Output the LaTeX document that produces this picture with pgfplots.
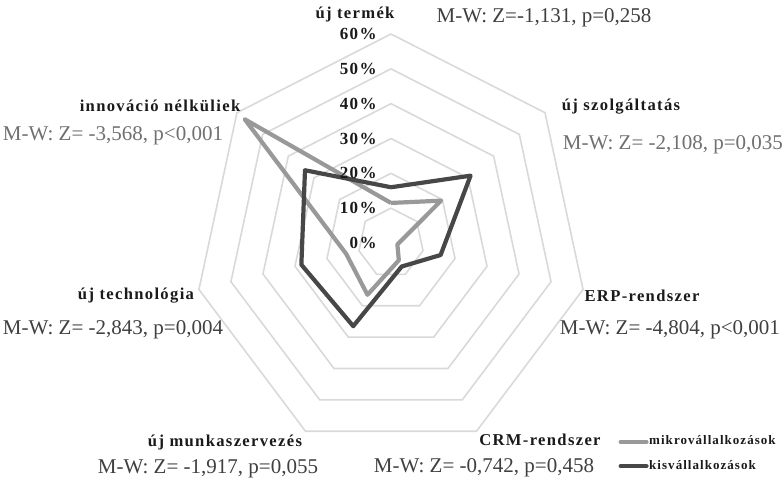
\documentclass[border=0pt]{standalone}
\usepackage{fontspec}
\setmainfont{Liberation Serif}
\newfontfamily\lblfont[LetterSpace=8]{Liberation Serif}
\usepackage{pgfplots}
\usepgfplotslibrary{polar}
\pgfplotsset{compat=1.18}

\definecolor{gridc}{HTML}{D9D9D9}
\definecolor{mikro}{HTML}{999999}
\definecolor{kis}{HTML}{474747}
\definecolor{txt}{HTML}{1A1A1A}
\definecolor{mwdark}{HTML}{404040}
\definecolor{mwgray}{HTML}{707070}

% angle (deg) of each category, values in %
\pgfplotstableread{
angle   mikro  kis
90      11.5   16
38.571  19.5   31
347.143 2      15.5
295.714 5.5    7.5
244.286 16.5   26.5
192.857 14     28
141.429 57     33.5
90      11.5   16
}\radar

\begin{document}
\begin{tikzpicture}
\begin{scope}[x=0.5pt,y=-0.5pt]
\useasboundingbox (0,0) rectangle (783,488);
\end{scope}

\begin{axis}[
    at={(195.5pt,-121.5pt)}, anchor=center,
    width=197pt, height=209pt, scale only axis,
    xmin=-60, xmax=60, ymin=-60, ymax=60,
    hide axis,
    clip=false,
    legend style={at={(axis description cs:1.478,0.04)}, anchor=north east,
        draw=none, fill=none, font=\lblfont\bfseries\fontsize{6.5}{7}\selectfont,
        text=txt, row sep=5.5pt, inner sep=0pt, outer sep=0pt,
        nodes={inner sep=0.3pt, outer sep=0pt},
        /tikz/every even column/.style={column sep=0pt}},
    legend cell align=left,
    legend image code/.code={\draw[#1,line width=2pt,line cap=round] (0pt,0pt) -- (13pt,0pt);},
]
\pgfplotsinvokeforeach{10,20,30,40,50,60}{
  \addplot[gridc, line width=0.8pt, data cs=polar, forget plot] coordinates
    {(90,#1) (38.571,#1) (347.143,#1) (295.714,#1) (244.286,#1) (192.857,#1) (141.429,#1) (90,#1)};
}
\addplot[mikro, line width=2.1pt, line join=round, data cs=polar] table[x=angle,y=mikro] {\radar};
\addlegendentry{mikrovállalkozások}
\addplot[kis, line width=2.1pt, line join=round, data cs=polar] table[x=angle,y=kis] {\radar};
\addlegendentry{kisvállalkozások}

\pgfplotsinvokeforeach{0,10,20,30,40,50,60}{
  \node[anchor=east, text=txt, font=\lblfont\bfseries\fontsize{8.5}{9}\selectfont, inner sep=0pt, xshift=-7pt]
    at (axis cs:0,#1) {#1\%};
}
\end{axis}

\begin{scope}[x=0.5pt,y=-0.5pt, every node/.style={inner sep=0pt}]
\tikzset{cat/.style={text=txt, font=\lblfont\bfseries\fontsize{8.3}{9}\selectfont},
         mw/.style={text=mwdark, font=\fontsize{10.5}{12}\selectfont},
         mwg/.style={text=mwgray, font=\fontsize{10.5}{12}\selectfont}}
\node[cat] at (355,14) {új termék};
\node[mw]  at (544,18) {M-W: Z=-1,131, p=0,258};
\node[cat] at (621,107) {új szolgáltatás};
\node[mwg] at (673,145) {M-W: Z= -2,108, p=0,035};
\node[cat] at (642,296) {ERP-rendszer};
\node[mw]  at (670,330) {M-W: Z= -4,804, p<0,001};
\node[cat] at (540,440) {CRM-rendszer};
\node[mw]  at (484,468) {M-W: Z= -0,742, p=0,458};
\node[cat] at (225,443) {új munkaszervezés};
\node[mw]  at (208,469) {M-W: Z= -1,917, p=0,055};
\node[cat] at (136,296) {új technológia};
\node[mw]  at (113,330) {M-W: Z= -2,843, p=0,004};
\node[cat] at (160,106) {innováció nélküliek};
\node[mwg] at (113,136) {M-W: Z= -3,568, p<0,001};
\end{scope}
\end{tikzpicture}
\end{document}
